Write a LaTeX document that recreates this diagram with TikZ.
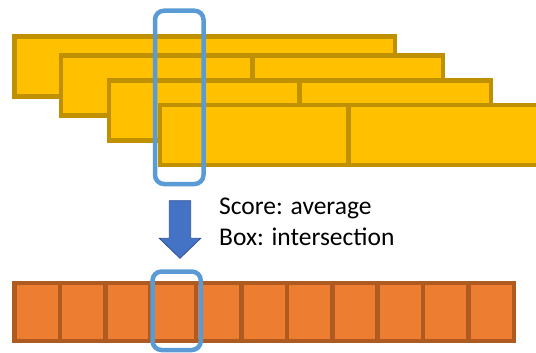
\documentclass[tikz,border=0pt]{standalone}
\usepackage{fontspec}
\setmainfont{Carlito}
\definecolor{yfill}{HTML}{FFC000}
\definecolor{ybord}{HTML}{BF9000}
\definecolor{ofill}{HTML}{ED7D31}
\definecolor{obord}{HTML}{AE5A21}
\definecolor{bline}{HTML}{5B9BD5}
\definecolor{afill}{HTML}{4472C4}
\definecolor{abord}{HTML}{2F528F}
\tikzset{
  ybox/.style={draw=ybord, fill=yfill, line width=4.5pt, inner sep=0pt, outer sep=0pt, anchor=north west, minimum height=60pt},
  obox/.style={draw=obord, fill=ofill, line width=4.5pt, inner sep=0pt, outer sep=0pt, anchor=north west, minimum height=58pt, minimum width=45.4pt},
  selbox/.style={draw=bline, line width=4.5pt, rounded corners=9pt},
  lbl/.style={anchor=base west, inner sep=0pt, font=\fontsize{25.5}{30}\selectfont},
}
\begin{document}
\begin{tikzpicture}[x=1pt,y=-1pt]
\useasboundingbox (0,0) rectangle (536,353);
% stacked yellow boxes
\node[ybox, minimum width=380.5pt] (r1) at (14.5,36.5) {};
\node[ybox, minimum width=191.7pt] (r2a) at (60.8,55.5) {};
\node[ybox, minimum width=190.5pt] (r2b) at (252.5,55.5) {};
\node[ybox, minimum width=190.7pt] (r3a) at (109,80.5) {};
\node[ybox, minimum width=191.3pt] (r3b) at (299.7,80.5) {};
\node[ybox, minimum width=188.5pt] (r4a) at (159.8,105) {};
\node[ybox, minimum width=191.7pt] (r4b) at (348.3,105) {};
% selection box on top
\draw[selbox] (155,10.7) rectangle (203.5,184);
% arrow
\draw[fill=afill, draw=abord, line width=0.8pt]
  (169.3,200.7) -- (190.7,200.7) -- (190.7,238.3) -- (200.7,238.3)
  -- (180,258.3) -- (159.3,238.3) -- (169.3,238.3) -- cycle;
\node[lbl] (t1) at (219,214) {Score: average};
\node[lbl] (t2) at (219,245) {Box: intersection};
% orange cells
\foreach \i in {0,...,10}{
  \node[obox] (c\i) at ({14.5+45.4*\i},283) {};
}
\draw[selbox] (152.5,271.5) rectangle (200.8,350);
\end{tikzpicture}
\end{document}
